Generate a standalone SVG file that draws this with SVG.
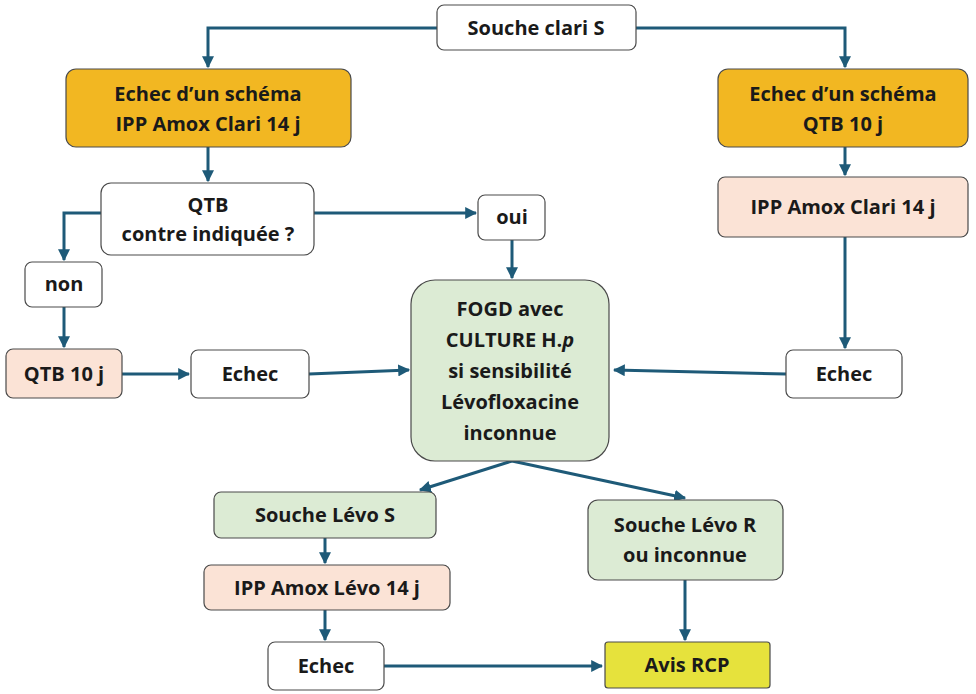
<svg xmlns="http://www.w3.org/2000/svg" width="976" height="694" viewBox="0 0 976 694">
<defs>
<marker id="ah" viewBox="0 0 10 10" refX="9" refY="5" markerWidth="4" markerHeight="4" orient="auto"><path d="M0,0 L10,5 L0,10 z" fill="#1e5a78"/></marker>
<style>
.b{stroke:#4a4a4a;stroke-width:1.2}
.w{fill:#fff}.o{fill:#f2b722}.p{fill:#fbe3d6}.g{fill:#dcebd4}.y{fill:#e6e23c}
text{font-family:"Open Sans","Liberation Sans",sans-serif;font-weight:bold;font-size:20px;fill:#1a1a1a;text-anchor:middle}
.c{fill:none;stroke:#1e5a78;stroke-width:3;marker-end:url(#ah)}
</style>
</defs>
<rect width="976" height="694" fill="#fff"/>
<g id="connectors">
<path class="c" d="M437,28 H208 V67"/>
<path class="c" d="M636,28 H845 V67"/>
<path class="c" d="M208,147 V181"/>
<path class="c" d="M314,213 H476"/>
<path class="c" d="M512,240 V278"/>
<path class="c" d="M101,213 H64 V260"/>
<path class="c" d="M64,307 V347"/>
<path class="c" d="M122,374 H189"/>
<path class="c" d="M309,374 L409,370"/>
<path class="c" d="M845,147 V175"/>
<path class="c" d="M845,237 V348"/>
<path class="c" d="M786,374 L614,370"/>
<path class="c" d="M512,461 L420,490"/>
<path class="c" d="M512,461 L685,498"/>
<path class="c" d="M325,538 V563"/>
<path class="c" d="M325,610 V640"/>
<path class="c" d="M384,666 H602"/>
<path class="c" d="M685,580 V640"/>
</g>
<g id="n1"><rect class="b w" x="437" y="5" width="199" height="45" rx="7"/><text x="536" y="35">Souche clari S</text></g>
<g id="n2"><rect class="b o" x="66" y="69" width="285" height="78" rx="10"/><text x="208" y="101">Echec d’un schéma</text><text x="208" y="131">IPP Amox Clari 14 j</text></g>
<g id="n3"><rect class="b o" x="718" y="69" width="250" height="78" rx="10"/><text x="843" y="101">Echec d’un schéma</text><text x="843" y="131">QTB 10 j</text></g>
<g id="n4"><rect class="b w" x="101" y="183" width="213" height="72" rx="10"/><text x="208" y="212" font-size="18">QTB</text><text x="208" y="241" font-size="18">contre indiquée ?</text></g>
<g id="n5"><rect class="b w" x="478" y="195" width="67" height="45" rx="7"/><text x="512" y="224">oui</text></g>
<g id="n6"><rect class="b w" x="25" y="262" width="77" height="45" rx="7"/><text x="64" y="291">non</text></g>
<g id="n7"><rect class="b p" x="6" y="349" width="116" height="49" rx="7"/><text x="64" y="381">QTB 10 j</text></g>
<g id="n8"><rect class="b w" x="191" y="350" width="118" height="48" rx="7"/><text x="250" y="381">Echec</text></g>
<g id="n9"><rect class="b g" x="411" y="280" width="198" height="181" rx="24"/><text x="510" y="316">FOGD avec</text><text x="510" y="347">CULTURE H.<tspan font-style="italic">p</tspan></text><text x="510" y="378">si sensibilité</text><text x="510" y="409">Lévofloxacine</text><text x="510" y="440">inconnue</text></g>
<g id="n10"><rect class="b p" x="718" y="177" width="250" height="60" rx="7"/><text x="843" y="214">IPP Amox Clari 14 j</text></g>
<g id="n11"><rect class="b w" x="786" y="350" width="116" height="48" rx="7"/><text x="844" y="381">Echec</text></g>
<g id="n12"><rect class="b g" x="214" y="492" width="222" height="46" rx="7"/><text x="325" y="522">Souche Lévo S</text></g>
<g id="n13"><rect class="b g" x="588" y="500" width="195" height="80" rx="10"/><text x="685" y="532">Souche Lévo R</text><text x="685" y="562">ou inconnue</text></g>
<g id="n14"><rect class="b p" x="204" y="565" width="246" height="45" rx="7"/><text x="327" y="595">IPP Amox Lévo 14 j</text></g>
<g id="n15"><rect class="b w" x="268" y="642" width="116" height="48" rx="7"/><text x="326" y="673">Echec</text></g>
<g id="n16"><rect class="b y" x="605" y="642" width="165" height="46" rx="3"/><text x="687" y="672">Avis RCP</text></g>
</svg>
